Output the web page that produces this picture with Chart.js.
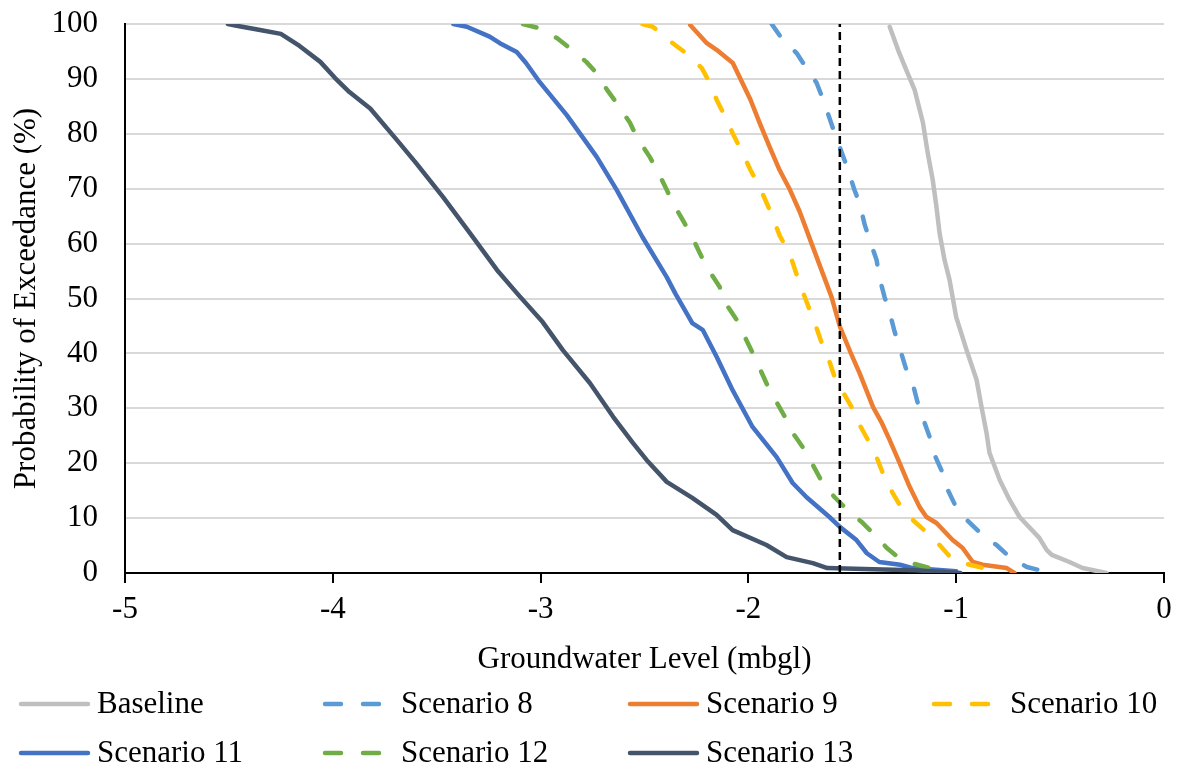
<!DOCTYPE html>
<html>
<head>
<meta charset="utf-8">
<script src="https://cdn.jsdelivr.net/npm/chart.js@4.4.1/dist/chart.umd.min.js"></script>
<style>
  html, body { margin: 0; padding: 0; background: #fff; }
  #wrap { width: 1185px; height: 771px; }
</style>
</head>
<body>
<div id="wrap"><canvas id="chart" width="1185" height="771"></canvas></div>
<script>
// groundwater level (mbgl) vs probability of exceedance (%)
var seriesNames = ['Baseline', 'Scenario 8', 'Scenario 9', 'Scenario 10', 'Scenario 11', 'Scenario 12', 'Scenario 13'];
var seriesColors = ['#BFBFBF', '#5B9BD5', '#ED7D31', '#FFC000', '#4472C4', '#70AD47', '#44546A'];
var seriesDashed = [false, true, false, true, false, true, false];

var baseline = [[-1.32,99.5],[-1.28,95.3],[-1.24,91.6],[-1.2,88.0],[-1.16,82.0],[-1.137,76.5],[-1.113,71.6],[-1.095,66.7],[-1.08,61.9],[-1.056,57.0],[-1.032,53.4],[-1.0,46.6],[-0.95,40.6],[-0.902,35.2],[-0.878,30.2],[-0.854,25.5],[-0.84,21.9],[-0.79,16.9],[-0.743,13.3],[-0.695,10.2],[-0.6,6.4],[-0.565,4.2],[-0.54,3.3],[-0.455,2.0],[-0.392,0.9],[-0.277,0]];
var scenario8 = [[-1.888,100],[-1.84,97.4],[-1.768,94.7],[-1.73,92.5],[-1.672,89.3],[-1.643,86.5],[-1.61,82.9],[-1.585,80.1],[-1.55,76.5],[-1.52,73.4],[-1.49,69.8],[-1.465,67.4],[-1.44,63.4],[-1.417,60.7],[-1.383,57.0],[-1.37,53.9],[-1.345,50.3],[-1.32,47.4],[-1.296,43.9],[-1.272,41.0],[-1.24,37.0],[-1.21,34.6],[-1.186,31.1],[-1.16,28.2],[-1.128,24.8],[-1.104,21.5],[-1.065,18.2],[-1.04,15.1],[-0.998,11.8],[-0.95,9.7],[-0.873,6.9],[-0.806,5.1],[-0.743,2.9],[-0.66,1.1],[-0.565,0.2],[-0.52,0]];
var scenario9 = [[-2.28,99.8],[-2.2,96.5],[-2.153,95.3],[-2.075,92.9],[-2.042,90.3],[-1.99,86.2],[-1.946,82.0],[-1.898,77.6],[-1.85,73.4],[-1.80,69.8],[-1.753,65.8],[-1.69,59.4],[-1.6,50.3],[-1.56,44.9],[-1.51,40.3],[-1.465,36.4],[-1.40,30.2],[-1.36,27.5],[-1.32,24.2],[-1.272,20.0],[-1.224,15.7],[-1.176,12.0],[-1.143,10.2],[-1.095,9.1],[-1.017,6.0],[-0.97,4.6],[-0.92,2.0],[-0.873,1.5],[-0.757,0.9],[-0.72,0]];
var scenario10 = [[-2.51,100],[-2.46,99.5],[-2.427,98.5],[-2.364,96.5],[-2.29,94.4],[-2.225,92.0],[-2.186,89.3],[-2.153,86.2],[-2.104,82.5],[-2.076,80.1],[-2.028,76.5],[-1.99,73.4],[-1.946,70.3],[-1.912,67.4],[-1.883,64.8],[-1.85,61.5],[-1.80,58.0],[-1.77,54.6],[-1.744,51.8],[-1.705,47.9],[-1.68,45.5],[-1.647,41.9],[-1.618,39.4],[-1.585,35.7],[-1.55,33.3],[-1.503,30.2],[-1.465,27.0],[-1.417,23.7],[-1.383,21.1],[-1.344,17.3],[-1.306,14.6],[-1.258,11.5],[-1.21,9.7],[-1.128,6.9],[-1.08,5.1],[-1.017,2.4],[-0.935,1.5],[-0.825,0.5],[-0.78,0]];
var scenario11 = [[-3.42,100],[-3.355,99.5],[-3.245,97.7],[-3.196,96.5],[-3.115,94.9],[-3.07,92.9],[-3.004,89.4],[-2.874,83.4],[-2.73,75.8],[-2.634,69.8],[-2.51,61.2],[-2.393,53.9],[-2.35,50.8],[-2.27,45.5],[-2.22,44.3],[-2.153,39.4],[-2.076,33.3],[-1.98,26.6],[-1.864,21.1],[-1.787,16.4],[-1.72,13.8],[-1.61,10.2],[-1.56,8.4],[-1.48,6.0],[-1.43,3.6],[-1.37,2.0],[-1.27,1.5],[-1.21,0.9],[-1.0,0.3]];
var scenario12 = [[-3.085,100],[-3.004,99.2],[-2.92,97.4],[-2.86,95.6],[-2.78,93.1],[-2.73,91.0],[-2.68,88.0],[-2.634,85.6],[-2.57,82.0],[-2.537,79.4],[-2.475,75.8],[-2.44,73.4],[-2.393,69.8],[-2.364,67.4],[-2.316,64.3],[-2.28,61.9],[-2.234,58.3],[-2.2,55.7],[-2.138,52.1],[-2.12,49.7],[-2.056,46.1],[-2.026,43.7],[-1.98,40.1],[-1.946,37.3],[-1.898,33.3],[-1.864,31.1],[-1.816,27.9],[-1.786,25.5],[-1.72,21.9],[-1.69,19.7],[-1.643,16.4],[-1.585,13.8],[-1.513,11.1],[-1.455,9.3],[-1.383,6.6],[-1.335,4.6],[-1.258,2.2],[-1.186,1.5],[-1.1,0.6]];
var scenario13 = [[-4.505,100],[-4.45,99.6],[-4.35,98.9],[-4.25,98.2],[-4.16,96.0],[-4.06,93.1],[-3.99,90.2],[-3.92,87.6],[-3.82,84.6],[-3.69,78.8],[-3.60,74.7],[-3.47,68.5],[-3.34,61.9],[-3.21,55.2],[-3.11,50.8],[-2.99,45.7],[-2.893,40.6],[-2.763,34.6],[-2.65,28.4],[-2.556,23.7],[-2.49,20.6],[-2.393,16.6],[-2.27,13.7],[-2.153,10.6],[-2.076,7.8],[-1.913,5.1],[-1.816,2.9],[-1.69,1.8],[-1.62,0.9],[-1.4,0.7],[-1.2,0.5],[-0.98,0]];

// vertical reference line
var thresholdX = -1.56;
var thresholdY = [0, 100];

var allSeries = [baseline, scenario8, scenario9, scenario10, scenario11, scenario12, scenario13];

var FONT = "'Liberation Serif', 'Times New Roman', serif";

var datasets = allSeries.map(function (pts, i) {
    return {
        label: seriesNames[i],
        data: pts.map(function (p) { return { x: p[0], y: p[1] }; }),
        borderColor: seriesColors[i],
        backgroundColor: seriesColors[i],
        borderWidth: 4.5,
        borderDash: seriesDashed[i] ? [14, 22] : [],
        borderCapStyle: 'round',
        borderJoinStyle: 'round',
        pointRadius: 0,
        tension: 0,
        showLine: true,
        order: allSeries.length - i
    };
});
datasets.push({
    label: 'threshold',
    data: thresholdY.map(function (y) { return { x: thresholdX, y: y }; }),
    borderColor: '#000000',
    borderWidth: 2.5,
    borderDash: [8, 5],
    pointRadius: 0,
    showLine: true,
    order: 0
});

// legend drawn in two fixed rows, four columns, like the original
var legendPlugin = {
    id: 'gridLegend',
    afterDraw: function (chart) {
        var ctx = chart.ctx;
        var colX = [21, 325, 630, 934];
        var rowY = [704, 753];
        ctx.save();
        ctx.font = '31px ' + FONT;
        ctx.textBaseline = 'middle';
        ctx.fillStyle = '#000';
        for (var i = 0; i < seriesNames.length; i++) {
            var x = colX[i % 4], y = rowY[Math.floor(i / 4)];
            ctx.beginPath();
            ctx.strokeStyle = seriesColors[i];
            ctx.lineWidth = 4.5;
            ctx.lineCap = 'round';
            ctx.setLineDash(seriesDashed[i] ? [16, 22] : []);
            ctx.moveTo(x, y);
            ctx.lineTo(x + (seriesDashed[i] ? 56 : 67), y);
            ctx.stroke();
            ctx.setLineDash([]);
            ctx.fillText(seriesNames[i], x + 76, y + 1);
        }
        ctx.restore();
    }
};

new Chart(document.getElementById('chart'), {
    type: 'scatter',
    data: { datasets: datasets },
    plugins: [legendPlugin],
    options: {
        responsive: false,
        animation: false,
        devicePixelRatio: 1,
        layout: { padding: { left: 0, top: 24, right: 21, bottom: 91 } },
        plugins: { legend: { display: false }, tooltip: { enabled: false } },
        scales: {
            x: {
                type: 'linear',
                min: -5,
                max: 0,
                afterFit: function (s) { s.height = 107; s.paddingLeft = 0; s.paddingRight = 0; },
                ticks: { stepSize: 1, padding: 8, color: '#000', font: { family: FONT, size: 31 } },
                grid: { drawOnChartArea: false, drawTicks: true, tickLength: 10, color: '#000', lineWidth: 2 },
                border: { color: '#000', width: 2 },
                title: { display: true, text: 'Groundwater Level (mbgl)', color: '#000', font: { family: FONT, size: 31 }, padding: { top: 0, bottom: 2 } }
            },
            y: {
                min: 0,
                max: 100,
                afterFit: function (s) { s.width = 125; s.paddingTop = 0; s.paddingBottom = 0; },
                ticks: { stepSize: 10, padding: 27, color: '#000', font: { family: FONT, size: 31 } },
                grid: { color: '#D9D9D9', lineWidth: 2, drawTicks: false },
                border: { color: '#000', width: 2 },
                title: { display: true, text: 'Probability of Exceedance (%)', color: '#000', font: { family: FONT, size: 31 }, padding: { top: 8, bottom: 0 } }
            }
        }
    }
});
</script>
</body>
</html>
